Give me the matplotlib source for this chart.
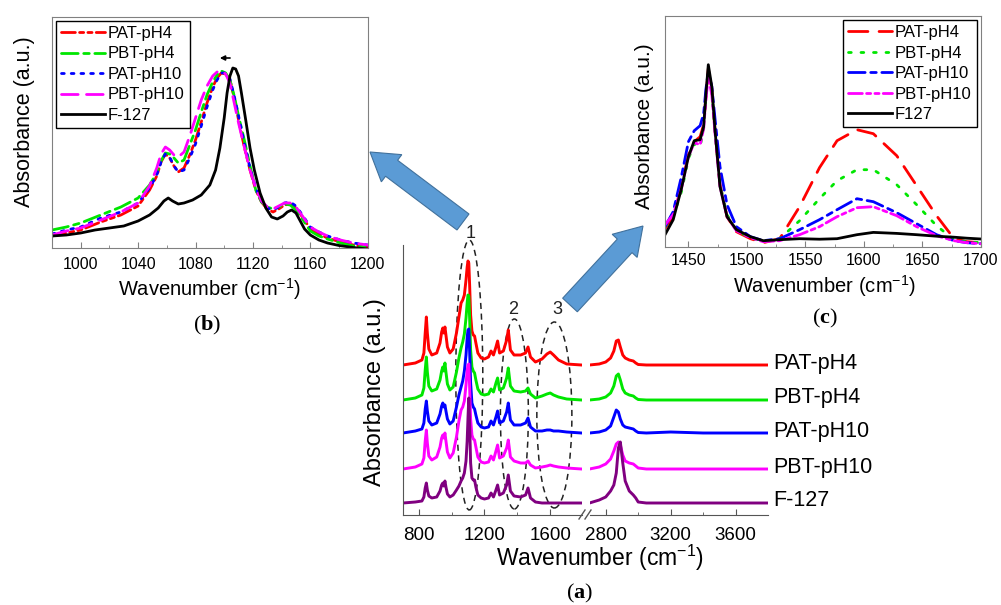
import numpy as np
import matplotlib.pyplot as plt
from matplotlib.patches import Ellipse, FancyArrow
from matplotlib.ticker import MultipleLocator, FixedLocator

plt.rcParams['font.family'] = ['Liberation Sans', 'DejaVu Sans']
plt.rcParams['mathtext.fontset'] = 'custom'
plt.rcParams['mathtext.rm'] = 'Liberation Sans'
plt.rcParams['mathtext.bf'] = 'Liberation Serif:bold'

# ---- panel (a): stacked full spectra, broken wavenumber axis ----
a_names = ['PAT-pH4', 'PBT-pH4', 'PAT-pH10', 'PBT-pH10', 'F-127']
a_colors = ['#ff0000', '#00e600', '#0000ff', '#ff00ff', '#800080']
a_offsets = [150, 115, 82, 46, 12]

a_x1 = [705, 780, 820, 832, 840, 847, 853, 862, 880, 910,
        930, 940, 947, 953, 960, 966, 975, 990, 1010, 1030,
        1045, 1058, 1068, 1078, 1088, 1095, 1100, 1105, 1110, 1116,
        1124, 1132, 1140, 1148, 1160, 1180, 1200, 1225, 1240, 1255,
        1270, 1280, 1292, 1315, 1335, 1345, 1358, 1380, 1420, 1450,
        1465, 1480, 1510, 1550, 1580, 1600, 1620, 1650, 1700, 1790]
a_low = [
    [0, 2, 5, 12, 32, 48, 32, 16, 10, 12, 22, 33, 37, 32, 38, 30, 18, 12, 16, 32,
     48, 62, 65, 70, 85, 98, 104, 102, 80, 50, 34, 30, 29, 22, 12, 7, 6, 8, 14, 10,
     18, 24, 12, 14, 25, 35, 15, 10, 10, 12, 18, 8, 3, 6, 11, 13, 10, 5, 1, 0],
    [0, 2, 5, 12, 30, 43, 28, 14, 9, 11, 20, 29, 33, 29, 37, 28, 16, 10, 13, 28,
     42, 52, 58, 66, 82, 97, 105, 104, 82, 50, 33, 29, 27, 20, 11, 6, 5, 6, 11, 8,
     17, 22, 10, 12, 22, 32, 14, 9, 8, 9, 12, 6, 2, 4, 6, 7, 5, 3, 1, 0],
    [0, 2, 4, 10, 24, 32, 22, 12, 8, 10, 19, 27, 30, 26, 28, 22, 14, 9, 12, 26,
     38, 46, 52, 62, 78, 95, 103, 104, 82, 50, 30, 26, 24, 18, 10, 6, 5, 6, 12, 8,
     16, 22, 10, 12, 21, 30, 13, 8, 8, 10, 15, 6, 2, 2, 3, 3, 2, 2, 1, 0],
    [0, 2, 5, 11, 28, 39, 26, 13, 9, 12, 22, 31, 34, 31, 36, 28, 17, 11, 16, 32,
     48, 59, 62, 68, 84, 98, 104, 105, 82, 50, 34, 30, 29, 22, 12, 7, 6, 7, 13, 9,
     18, 24, 11, 13, 21, 29, 12, 8, 6, 6, 8, 4, 1, 2, 3, 4, 3, 2, 1, 0],
    [0, 1, 2, 6, 15, 20, 13, 7, 5, 6, 12, 18, 20, 17, 22, 16, 9, 6, 8, 13,
     17, 22, 25, 30, 42, 62, 85, 105, 80, 40, 25, 23, 23, 16, 8, 5, 4, 5, 10, 6,
     13, 18, 8, 10, 18, 28, 12, 7, 6, 8, 15, 5, 1, 0, 0, 0, 0, 0, 0, 0],
]
a_x2 = [2700, 2760, 2800, 2830, 2850, 2865, 2878, 2890, 2905, 2920, 2945, 2970, 2985,
        3000, 3050, 3200, 3400, 3600, 3800]
a_high = [
    [0, 1, 3, 7, 14, 24, 25, 18, 10, 7, 5, 4, 2, 0.5, 0, 0, 0, 0, 0],
    [0, 1, 3, 7, 14, 24, 26, 20, 11, 7, 5, 4, 2, 0.5, 0, 0, 0, 0, 0],
    [0, 1, 3, 7, 16, 23, 21, 14, 8, 6, 5, 4, 2, 0.5, 0, 1, 0, 0, 0],
    [0, 2, 5, 10, 18, 25, 27, 24, 14, 8, 6, 5, 3, 1, 0, 0, 0, 0, 0],
    [0, 3, 6, 12, 18, 30, 55, 61, 40, 22, 12, 8, 5, 1, 0, 0, 0, 0, 0],
]

# ---- panel (b): 980-1200 region ----
b_names = ['PAT-pH4', 'PBT-pH4', 'PAT-pH10', 'PBT-pH10']
b_colors = ['#ff0000', '#00e600', '#0000ff', '#ff00ff']
b_styles = [(0, (5, 1.5, 1.5, 1.5, 1.5, 1.5)), (0, (6, 2, 2, 2)), (0, (1, 2.5)), (0, (6, 3))]
b_x = [980, 990, 1000, 1014, 1028, 1040, 1048, 1053, 1056, 1059,
       1062, 1065, 1068, 1072, 1076, 1080, 1084, 1088, 1092, 1095,
       1098, 1101, 1104, 1107, 1110, 1114, 1118, 1122, 1126, 1130,
       1134, 1138, 1142, 1146, 1150, 1155, 1160, 1166, 1172, 1181, 1190, 1200]
b_y = [
    [12, 15, 18, 26, 33, 42, 58, 72, 86, 94, 90, 82, 76, 80, 93, 108, 126, 145, 161, 170,
     175, 174, 168, 150, 128, 101, 78, 58, 46, 39, 36, 39, 43, 44, 40, 30, 19, 14, 10, 6, 3, 1],
    [18, 21, 25, 33, 41, 50, 63, 75, 87, 95, 94, 90, 85, 88, 103, 118, 136, 153, 166, 173,
     177, 175, 168, 152, 132, 108, 82, 58, 46, 41, 39, 41, 44, 43, 38, 28, 17, 12, 9, 5, 2, 1],
    [14, 18, 21, 30, 36, 45, 60, 73, 86, 94, 91, 82, 76, 78, 90, 104, 122, 141, 158, 168,
     175, 175, 169, 152, 132, 105, 80, 60, 47, 40, 38, 41, 45, 46, 42, 32, 21, 16, 12, 8, 5, 3],
    [13, 17, 20, 28, 36, 45, 62, 80, 94, 101, 98, 93, 91, 96, 112, 130, 148, 162, 172, 176,
     177, 174, 165, 145, 125, 101, 78, 60, 47, 41, 39, 42, 45, 45, 41, 31, 21, 16, 12, 8, 5, 3],
]
b_x_f127 = [980, 990, 1000, 1010, 1020, 1030, 1040, 1048, 1054, 1058,
            1061, 1064, 1068, 1072, 1078, 1084, 1090, 1094, 1097, 1100,
            1102, 1104, 1106, 1108, 1110, 1112, 1115, 1118, 1121, 1125,
            1129, 1133, 1137, 1141, 1144, 1147, 1150, 1153, 1156, 1160,
            1166, 1172, 1180, 1190, 1200]
b_f127 = [12, 13, 15, 18, 20, 22, 27, 33, 40, 47, 50, 47, 44, 45, 48, 53, 63, 78, 100, 130,
          155, 172, 180, 179, 172, 155, 128, 100, 78, 55, 40, 31, 29, 32, 36, 38, 35, 27, 19, 13,
          8, 5, 2.5, 0.5, -1]

# ---- panel (c): 1430-1700 region ----
c_names = ['PAT-pH4', 'PBT-pH4', 'PAT-pH10', 'PBT-pH10', 'F127']
c_colors = ['#ff0000', '#00e600', '#0000ff', '#ff00ff', '#000000']
c_styles = [(0, (7, 4)), (0, (1, 3.5)), (0, (6, 2, 2, 2)), (0, (5, 1.5, 1.5, 1.5, 1.5, 1.5)), '-']
c_x = [1430, 1437, 1444, 1450, 1455, 1460, 1463, 1465, 1467, 1470, 1473, 1477, 1483,
       1491, 1503, 1514, 1528, 1545, 1562, 1577, 1594, 1608, 1628, 1645, 1662, 1677,
       1688, 1700]
c_y = [
    [18, 30, 60, 92, 105, 110, 122, 150, 178, 158, 112, 62, 30, 15, 8, 4, 8, 40, 79, 106,
     117, 113, 91, 61, 31, 8, 5, 4],
    [20, 30, 55, 88, 103, 100, 118, 150, 173, 155, 112, 62, 32, 16, 9, 5, 8, 26, 48, 66,
     77, 77, 62, 42, 21, 7, 5, 4],
    [20, 35, 70, 105, 116, 121, 133, 158, 175, 160, 125, 80, 42, 20, 10, 6, 8, 17, 27, 37,
     48, 45, 34, 23, 12, 6, 4, 3],
    [22, 32, 58, 90, 104, 102, 118, 148, 170, 152, 110, 60, 30, 16, 9, 5, 6, 12, 20, 30,
     39, 40, 31, 20, 11, 6, 4, 3],
    [12, 27, 58, 90, 106, 107, 120, 153, 182, 160, 113, 60, 30, 17, 10, 6, 7, 8, 7.5, 8,
     12, 14.3, 13.3, 12, 10.5, 9.5, 8.5, 7.7],
]

W, H = 1001, 605
fig = plt.figure(figsize=(W / 100, H / 100), dpi=100)


def box(l, t, r, b):
    return [l / W, 1 - b / H, (r - l) / W, (b - t) / H]


spine_gray = '#808080'

# panel (b)
ax_b = fig.add_axes(box(52, 16.7, 367.7, 248))
for y, c, ls, n in zip(b_y, b_colors, b_styles, b_names):
    ax_b.plot(b_x, y, color=c, ls=ls, lw=2, label=n, dash_capstyle='round')
ax_b.plot(b_x_f127, b_f127, color='k', lw=2, label='F-127')
ax_b.set_xlim(980, 1200)
ax_b.set_ylim(0, 231.3)
ax_b.xaxis.set_major_locator(FixedLocator([1000, 1040, 1080, 1120, 1160, 1200]))
ax_b.xaxis.set_minor_locator(MultipleLocator(20))
ax_b.set_yticks([])
ax_b.annotate('', xy=(1095, 190), xytext=(1106, 190),
              arrowprops=dict(arrowstyle='-|>', color='k', lw=1.2, mutation_scale=7))

# panel (c)
ax_c = fig.add_axes(box(665, 16, 981, 246.7))
for y, c, ls, n in zip(c_y, c_colors, c_styles, c_names):
    ax_c.plot(c_x, y, color=c, ls=ls, lw=2, label=n, dash_capstyle='round')
ax_c.set_xlim(1430, 1700)
ax_c.set_ylim(0, 230.7)
ax_c.xaxis.set_major_locator(MultipleLocator(50))
ax_c.xaxis.set_minor_locator(MultipleLocator(25))
ax_c.set_yticks([])

for ax, loc, pad in ((ax_b, 'upper left', 6.5), (ax_c, 'upper right', 4.5)):
    for s in ax.spines.values():
        s.set_color(spine_gray)
    ax.tick_params(axis='x', which='both', direction='in', labelsize=11.5, pad=pad,
                   color=spine_gray)
    ax.tick_params(axis='x', which='major', length=4)
    ax.tick_params(axis='x', which='minor', length=2.5)
    lg = ax.legend(loc=loc, fontsize=12, handlelength=2.6, handletextpad=0.2,
                   labelspacing=0.33, borderpad=0.3, borderaxespad=0.25, fancybox=False,
                   edgecolor='k', framealpha=1)
    lg.get_frame().set_linewidth(1)

# panel (a)
ax_a1 = fig.add_axes(box(403, 245, 581.5, 515))
ax_a2 = fig.add_axes(box(589.5, 245, 768, 515))
for lo, hi, off, c in zip(a_low, a_high, a_offsets, a_colors):
    ax_a1.plot(a_x1, np.array(lo) + off, color=c, lw=2.1)
    ax_a2.plot(a_x2, np.array(hi) + off, color=c, lw=2.1)
ax_a1.set_xlim(705, 1790)
ax_a2.set_xlim(2700, 3800)
for ax in (ax_a1, ax_a2):
    ax.set_ylim(0, 270)
    ax.set_yticks([])
    ax.spines['top'].set_visible(False)
    ax.spines['right'].set_visible(False)
    for s in ax.spines.values():
        s.set_color('#555555')
    ax.tick_params(axis='x', which='both', direction='in', labelsize=13.5, pad=9,
                   color='#555555')
    ax.tick_params(axis='x', which='major', length=4)
    ax.tick_params(axis='x', which='minor', length=2.5)
    ax.patch.set_alpha(0)
ax_a2.spines['left'].set_visible(False)
ax_a1.xaxis.set_major_locator(FixedLocator([800, 1200, 1600]))
ax_a1.xaxis.set_minor_locator(FixedLocator([1000, 1400]))
ax_a2.xaxis.set_major_locator(FixedLocator([2800, 3200, 3600]))
ax_a2.xaxis.set_minor_locator(FixedLocator([3000, 3400]))

for name, off in zip(a_names, a_offsets):
    ax_a2.annotate(name, xy=(3800, off + 2), xytext=(4, 0), textcoords='offset points',
                   va='center', ha='left', fontsize=15.5, annotation_clip=False)

for (cx, cy, w, h), lab, (tx, ty) in zip(
        [(1108, 140, 164, 270), (1382, 101, 170, 190), (1625, 100, 213, 186)],
        ['1', '2', '3'], [(1114, 281), (1376, 206), (1643, 206)]):
    ax_a1.add_patch(Ellipse((cx, cy), w, h, fill=False, ls=(0, (4, 3)), lw=1.1,
                            ec='#222222', clip_on=False))
    ax_a1.text(tx, ty, lab, ha='center', va='center', fontsize=13, color='#222222')

# overlay in pixel coordinates for arrows, break marks and captions
ov = fig.add_axes([0, 0, 1, 1], zorder=5)
ov.set_xlim(0, W)
ov.set_ylim(H, 0)
ov.axis('off')
for (x0, y0, x1, y1) in [(463, 222, 370, 152), (570, 305, 643, 226)]:
    ov.add_patch(FancyArrow(x0, y0, x1 - x0, y1 - y0, width=20, head_width=34,
                            head_length=27, length_includes_head=True,
                            fc='#5b9bd5', ec='#41719c', lw=0.8))
for xs in (579, 585):
    ov.plot([xs, xs + 6], [519, 510], color='#555555', lw=1)

ov.text(600, 558, 'Wavenumber (cm$^{-1}$)', ha='center', va='center', fontsize=16.5)
ov.text(375, 392, 'Absorbance (a.u.)', ha='center', va='center', rotation=90, fontsize=17)
ov.text(209, 289, 'Wavenumber (cm$^{-1}$)', ha='center', va='center', fontsize=14.5)
ov.text(25, 122, 'Absorbance (a.u.)', ha='center', va='center', rotation=90, fontsize=15.5)
ov.text(824, 286, 'Wavenumber (cm$^{-1}$)', ha='center', va='center', fontsize=14.5)
ov.text(645, 126, 'Absorbance (a.u.)', ha='center', va='center', rotation=90, fontsize=15)

for lab, (x, y) in zip(['b', 'c', 'a'], [(207, 325), (825, 318), (580, 593)]):
    ov.text(x, y, '($\\mathbf{' + lab + '}$)', ha='center', va='center', fontsize=16,
            family='Liberation Serif')

fig.savefig('out.png', dpi=100)
